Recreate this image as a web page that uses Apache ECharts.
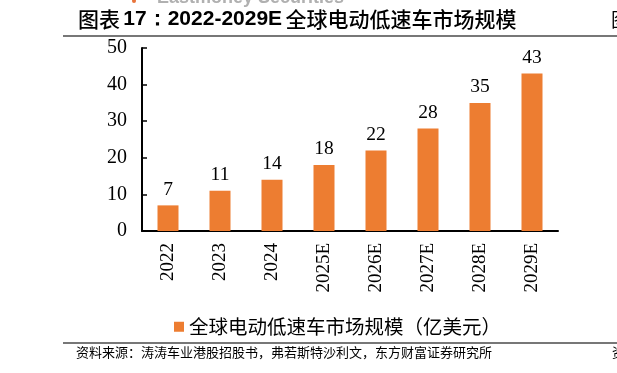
<!DOCTYPE html>
<html>
<head>
<meta charset="utf-8">
<script src="https://cdn.jsdelivr.net/npm/echarts@6/dist/echarts.min.js"></script>
<style>
  html, body {margin: 0; padding: 0; background: #fff;}
  #chart {width: 617px; height: 373px;}
</style>
</head>
<body>
<div id="chart"></div>
<script>
const years = ['2022', '2023', '2024', '2025E', '2026E', '2027E', '2028E', '2029E'];
const marketSize = [7, 11, 14, 18, 22, 28, 35, 43];
const seriesName = '全球电动低速车市场规模（亿美元）';
const sourceText = '资料来源：涛涛车业港股招股书，弗若斯特沙利文，东方财富证券研究所';

const serif = '"Liberation Serif", "Times New Roman", serif';
const cjk = '"Noto Sans CJK SC", sans-serif';
const sans = '"Liberation Sans", Arial, sans-serif';

const chart = echarts.init(document.getElementById('chart'), null, {renderer: 'canvas'});
chart.setOption({
    animation: false,
    backgroundColor: '#fff',
    graphic: [
        // faint watermark, cut off at the top edge
        {type: 'text', left: 157, top: -11, style: {text: 'Eastmoney Securities', fill: '#b0b0b0', font: 'bold 18px ' + sans}},
        {type: 'circle', shape: {cx: 134, cy: 1, r: 2}, style: {fill: '#e8743b'}},
        {
            type: 'text', left: 78, top: 9,
            style: {
                text: '{a|图表} {b|17：2022-2029E} {a|全球电动低速车市场规模}',
                rich: {
                    a: {fontFamily: cjk, fontSize: 21, fill: '#000', fontWeight: 500},
                    b: {fontFamily: sans, fontSize: 21, fontWeight: 'bold', fill: '#000'},
                },
            },
        },
        {type: 'text', left: 611, top: 10, style: {text: '图', fill: '#000', font: '19px ' + cjk}},
        {type: 'line', shape: {x1: 63, y1: 36, x2: 617, y2: 36}, style: {stroke: '#777', lineWidth: 2}},
        {type: 'line', shape: {x1: 63, y1: 343, x2: 617, y2: 343}, style: {stroke: '#777', lineWidth: 2}},
        {type: 'text', left: 76, top: 346, style: {text: sourceText, fill: '#000', font: '13px ' + cjk}},
        {type: 'text', left: 612, top: 346, style: {text: '资', fill: '#000', font: '13px ' + cjk}},
    ],
    grid: {left: 142, right: 59, top: 48, bottom: 142},
    legend: {
        data: [seriesName],
        left: 169,
        top: 312,
        itemWidth: 10,
        itemHeight: 10,
        itemGap: 5,
        icon: 'rect',
        textStyle: {fontFamily: cjk, fontSize: 19.5, color: '#000'},
    },
    xAxis: {
        type: 'category',
        data: years,
        axisLine: {lineStyle: {color: '#000', width: 2}},
        axisTick: {show: false},
        axisLabel: {
            rotate: 90,
            margin: 12,
            color: '#000',
            fontFamily: serif,
            fontSize: 19,
        },
    },
    yAxis: {
        type: 'value',
        min: 0,
        max: 50,
        interval: 10,
        splitLine: {show: false},
        axisLine: {show: true, lineStyle: {color: '#000', width: 2}},
        axisTick: {show: true, inside: true, length: 5, lineStyle: {color: '#000', width: 1.5}},
        axisLabel: {
            margin: 15,
            color: '#000',
            fontFamily: serif,
            fontSize: 20,
        },
    },
    series: [{
        name: seriesName,
        type: 'bar',
        data: marketSize,
        barWidth: 21,
        itemStyle: {color: '#ed7d31'},
        label: {
            show: true,
            position: 'top',
            distance: 6,
            color: '#000',
            fontFamily: serif,
            fontSize: 19.5,
        },
    }],
});
</script>
</body>
</html>
